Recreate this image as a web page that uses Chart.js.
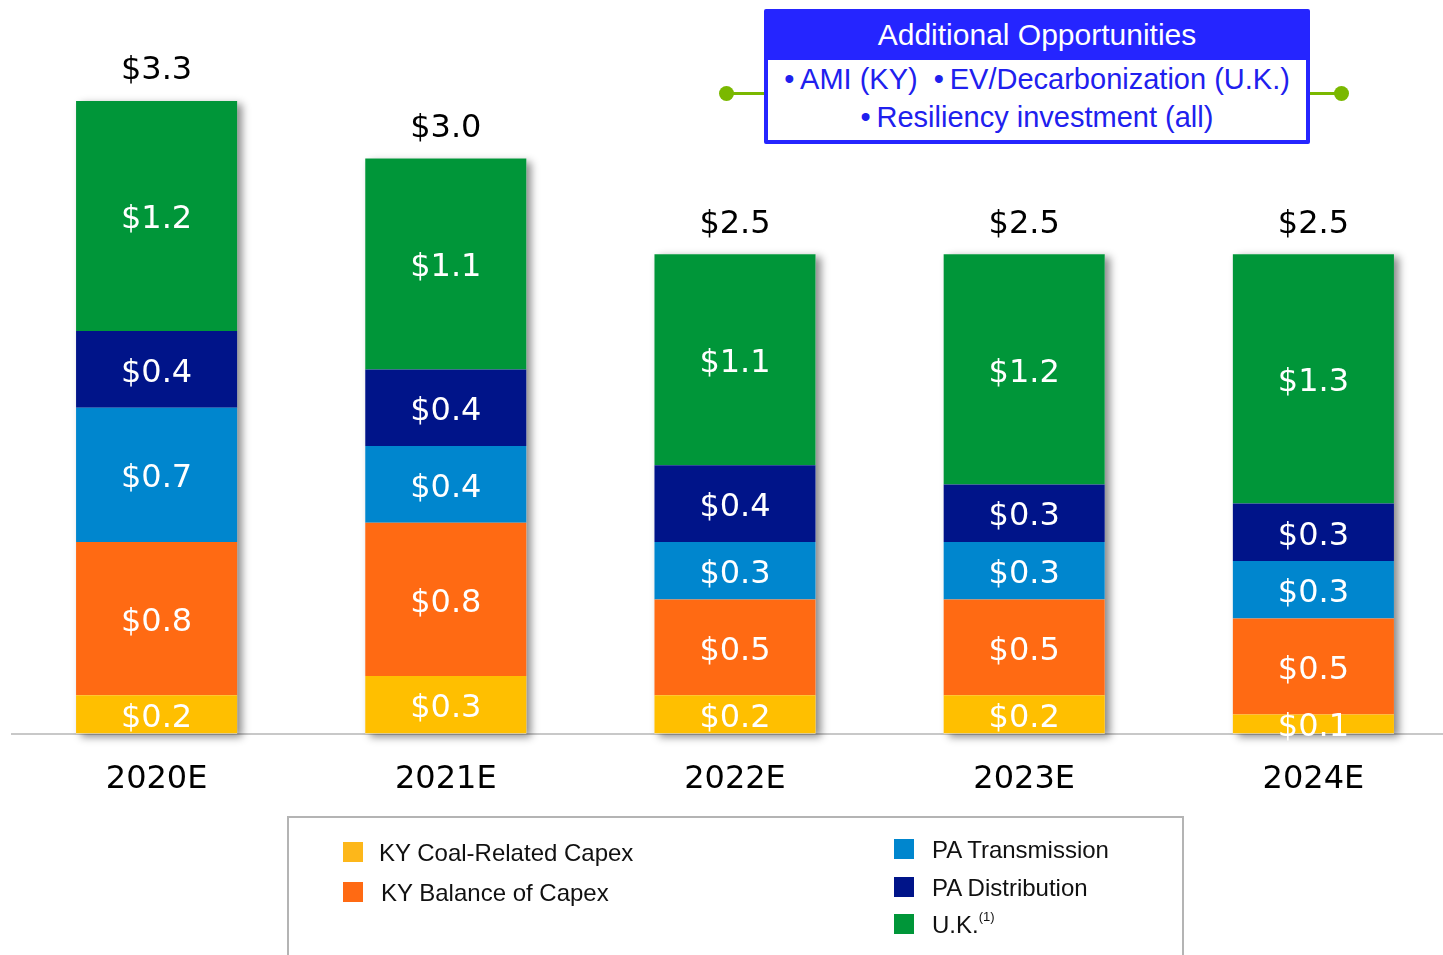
<!DOCTYPE html>
<html>
<head>
<meta charset="utf-8">
<script src="https://cdn.jsdelivr.net/npm/chart.js@4.4.0/dist/chart.umd.min.js"></script>
<style>
  body { margin: 0; width: 1443px; height: 955px; overflow: hidden; background: #fff; position: relative; font-family: "Liberation Sans", Arial, sans-serif; }
  #chart { position: absolute; left: 0; top: 0; }
  .opp { position: absolute; left: 764px; top: 9px; width: 538px; height: 127px; border: 4px solid #2525ff; background: #fff; border-radius: 2px; }
  .opp .head { background: #2525ff; color: #fff; height: 47px; line-height: 44px; text-align: center; font-size: 30px; }
  .opp .body { color: #2020ee; text-align: center; font-size: 29px; line-height: 38px; padding-top: 0px; }
  .conn { position: absolute; height: 3px; background: #7ab800; top: 92px; }
  .dot { position: absolute; width: 15px; height: 15px; border-radius: 50%; background: #7ab800; top: 86px; }
  .legend { position: absolute; left: 287px; top: 816px; width: 893px; height: 160px; border: 2px solid #b4b4b4; }
  .item { position: absolute; font-size: 24px; color: #111; line-height: 24px; }
  .item i { position: absolute; width: 20px; height: 20px; left: -38px; top: 1px; }
  sup { font-size: 13px; position: relative; top: -12px; vertical-align: baseline; line-height: 0; }
</style>
</head>
<body>
<canvas id="chart" width="1460" height="955"></canvas>

<div class="conn" style="left:727px;width:38px"></div>
<div class="dot" style="left:719px"></div>
<div class="conn" style="left:1310px;width:32px"></div>
<div class="dot" style="left:1334px"></div>
<div class="opp">
  <div class="head">Additional Opportunities</div>
  <div class="body">•&thinsp;AMI (KY) &nbsp;•&thinsp;EV/Decarbonization (U.K.)<br>•&thinsp;Resiliency investment (all)</div>
</div>

<div class="legend"></div>
<div class="item" style="left:379px;top:841px"><i style="background:#fdb71a;left:-36px"></i>KY Coal-Related Capex</div>
<div class="item" style="left:381px;top:881px"><i style="background:#ff6a13"></i>KY Balance of Capex</div>
<div class="item" style="left:932px;top:838px"><i style="background:#0086ce"></i>PA Transmission</div>
<div class="item" style="left:932px;top:876px"><i style="background:#001489"></i>PA Distribution</div>
<div class="item" style="left:932px;top:913px"><i style="background:#009639"></i>U.K.<sup>(1)</sup></div>

<script>
const years = ['2020E', '2021E', '2022E', '2023E', '2024E'];
const kyCoal = [0.2, 0.3, 0.2, 0.2, 0.1];
const kyBalance = [0.8, 0.8, 0.5, 0.5, 0.5];
const paTransmission = [0.7, 0.4, 0.3, 0.3, 0.3];
const paDistribution = [0.4, 0.4, 0.4, 0.3, 0.3];
const uk = [1.2, 1.1, 1.1, 1.2, 1.3];

const money = v => '$' + v.toFixed(1);

// one shadow per whole stack, drawn before the bars
const stackShadow = {
  id: 'stackShadow',
  beforeDatasetsDraw(chart) {
    const ctx = chart.ctx;
    const first = chart.getDatasetMeta(0).data;
    const last = chart.getDatasetMeta(chart.data.datasets.length - 1).data;
    ctx.save();
    ctx.shadowColor = 'rgba(0,0,0,0.45)';
    ctx.shadowBlur = 8;
    ctx.shadowOffsetX = 5;
    ctx.shadowOffsetY = 3;
    ctx.fillStyle = '#fff';
    first.forEach((bar, i) => {
      const top = last[i].y;
      ctx.fillRect(bar.x - bar.width / 2, top, bar.width, bar.base - top);
    });
    ctx.restore();
  }
};

const barLabels = {
  id: 'barLabels',
  afterDatasetsDraw(chart) {
    const ctx = chart.ctx;
    ctx.save();
    ctx.font = '32px "DejaVu Sans"';
    ctx.textAlign = 'center';
    ctx.textBaseline = 'middle';
    ctx.fillStyle = '#fff';
    chart.data.datasets.forEach((ds, d) => {
      chart.getDatasetMeta(d).data.forEach((bar, i) => {
        ctx.fillText(money(ds.data[i]), bar.x, (bar.y + bar.base) / 2 + 4);
      });
    });
    ctx.fillStyle = '#000';
    const last = chart.getDatasetMeta(chart.data.datasets.length - 1).data;
    last.forEach((bar, i) => {
      const total = chart.data.datasets.reduce((s, ds) => s + ds.data[i], 0);
      ctx.fillText(money(total), bar.x, bar.y - 30);
    });
    ctx.restore();
  }
};

new Chart(document.getElementById('chart'), {
  type: 'bar',
  data: {
    labels: years,
    datasets: [
      { label: 'KY Coal-Related Capex', data: kyCoal, backgroundColor: '#ffbf00' },
      { label: 'KY Balance of Capex', data: kyBalance, backgroundColor: '#ff6a13' },
      { label: 'PA Transmission', data: paTransmission, backgroundColor: '#0086ce' },
      { label: 'PA Distribution', data: paDistribution, backgroundColor: '#001489' },
      { label: 'U.K.', data: uk, backgroundColor: '#009639' }
    ]
  },
  options: {
    responsive: false,
    animation: false,
    layout: { padding: { left: 12, right: 2, top: 0, bottom: 129 } },
    datasets: { bar: { barPercentage: 0.557, categoryPercentage: 1 } },
    plugins: { legend: { display: false }, tooltip: { enabled: false } },
    scales: {
      x: {
        stacked: true,
        grid: { display: false, drawTicks: false },
        border: { display: true, color: '#c8c8c8', width: 2 },
        ticks: { color: '#000', padding: 27, font: { family: 'DejaVu Sans', size: 32 } }
      },
      y: {
        stacked: true,
        display: false,
        min: 0,
        max: 3.827
      }
    }
  },
  plugins: [stackShadow, barLabels]
});
</script>
</body>
</html>
